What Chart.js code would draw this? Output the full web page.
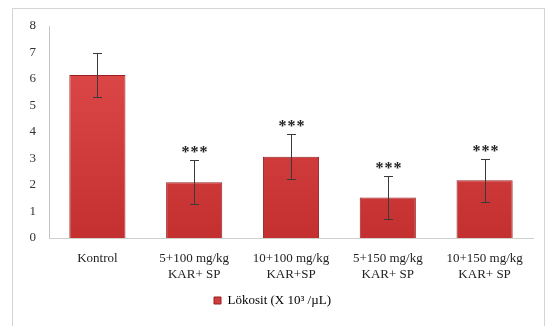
<!DOCTYPE html>
<html>
<head>
<meta charset="utf-8">
<script src="https://cdn.jsdelivr.net/npm/chart.js@4/dist/chart.umd.min.js"></script>
<style>
  html, body { margin: 0; padding: 0; background: #fff; }
  #wrap { position: relative; width: 548px; height: 326px; }
  #frame { position: absolute; left: 12px; top: 8px; width: 533px; height: 330px;
           border: 1px solid #d4d4d4; box-sizing: border-box; }
  canvas { position: absolute; left: 0; top: 0; }
</style>
</head>
<body>
<div id="wrap">
  <div id="frame"></div>
  <canvas id="c" width="548" height="326"></canvas>
</div>
<script>
// Leukocyte counts per treatment group (mean ± SD)
const categories = [
  ["Kontrol"],
  ["5+100 mg/kg", "KAR+ SP"],
  ["10+100 mg/kg", "KAR+SP"],
  ["5+150 mg/kg", "KAR+ SP"],
  ["10+150 mg/kg", "KAR+ SP"]
];
const values = [6.15, 2.1, 3.07, 1.53, 2.18];
const errors = [0.82, 0.83, 0.84, 0.82, 0.82];
const significance = ["", "***", "***", "***", "***"];
const yTicks = [0, 1, 2, 3, 4, 5, 6, 7, 8];
const seriesLabel = "Lökosit (X 10³ /µL)";

const serif = "'Liberation Serif', 'DejaVu Serif', serif";

// Error bars and significance stars, positioned through the chart scales
const errorBarPlugin = {
  id: 'errorBars',
  afterDatasetsDraw(chart) {
    const ctx = chart.ctx;
    const y = chart.scales.y;
    const meta = chart.getDatasetMeta(0);
    ctx.save();
    meta.data.forEach((bar, i) => {
      const x = Math.round(bar.x);
      const top = Math.round(y.getPixelForValue(values[i] + errors[i]));
      const bottom = Math.round(y.getPixelForValue(values[i] - errors[i]));
      ctx.strokeStyle = '#3a3a3a';
      ctx.lineWidth = 1;
      ctx.beginPath();
      ctx.moveTo(x + 0.5, top);
      ctx.lineTo(x + 0.5, bottom);
      ctx.moveTo(x - 4, top + 0.5);
      ctx.lineTo(x + 5, top + 0.5);
      ctx.moveTo(x - 4, bottom + 0.5);
      ctx.lineTo(x + 5, bottom + 0.5);
      ctx.stroke();
      if (significance[i]) {
        ctx.fillStyle = '#1e1e1e';
        ctx.font = "bold 16px " + serif;
        ctx.textAlign = 'center';
        ctx.textBaseline = 'middle';
        const chars = significance[i].split('');
        const step = 9;
        chars.forEach((ch, k) => {
          ctx.fillText(ch, x + 0.5 + (k - (chars.length - 1) / 2) * step, top - 7);
        });
      }
    });
    ctx.restore();
  }
};

const ctx = document.getElementById('c').getContext('2d');
new Chart(ctx, {
  type: 'bar',
  data: {
    labels: categories,
    datasets: [{
      label: seriesLabel,
      data: values,
      backgroundColor(context) {
        const area = context.chart.chartArea;
        if (!area) return '#d23c3c';
        const g = context.chart.ctx.createLinearGradient(0, area.top, 0, area.bottom);
        g.addColorStop(0, '#e24c4c');
        g.addColorStop(1, '#c43030');
        return g;
      },
      borderColor: '#972020',
      borderWidth: 1,
      categoryPercentage: 1.0,
      barPercentage: 0.58
    }]
  },
  options: {
    responsive: false,
    animation: false,
    layout: { padding: { left: 12, top: 26, right: 15, bottom: 9 } },
    plugins: {
      legend: {
        display: true,
        position: 'bottom',
        labels: {
          boxWidth: 7,
          boxHeight: 7,
          padding: 13,
          color: '#222',
          font: { family: serif, size: 13 },
          generateLabels(chart) {
            return [{
              text: seriesLabel,
              fillStyle: '#d23c3c',
              strokeStyle: '#972020',
              lineWidth: 1,
              datasetIndex: 0
            }];
          }
        }
      },
      tooltip: { enabled: false }
    },
    scales: {
      x: {
        grid: { display: false, drawTicks: false },
        border: { display: true, color: '#cfcfcf', width: 1 },
        ticks: {
          color: '#222',
          padding: 13,
          maxRotation: 0,
          autoSkip: false,
          font: { family: serif, size: 13, lineHeight: 1.2 }
        },
        afterFit(scale) { scale.height = 43; }
      },
      y: {
        min: 0,
        max: 8,
        grid: { display: false, drawTicks: false },
        border: { display: true, color: '#c4c4c4', width: 1 },
        afterBuildTicks(scale) { scale.ticks = yTicks.map(v => ({ value: v })); },
        ticks: {
          color: '#333',
          padding: 13,
          font: { family: serif, size: 13 }
        },
        afterFit(scale) { scale.width = 37; }
      }
    }
  },
  plugins: [errorBarPlugin]
});
</script>
</body>
</html>
